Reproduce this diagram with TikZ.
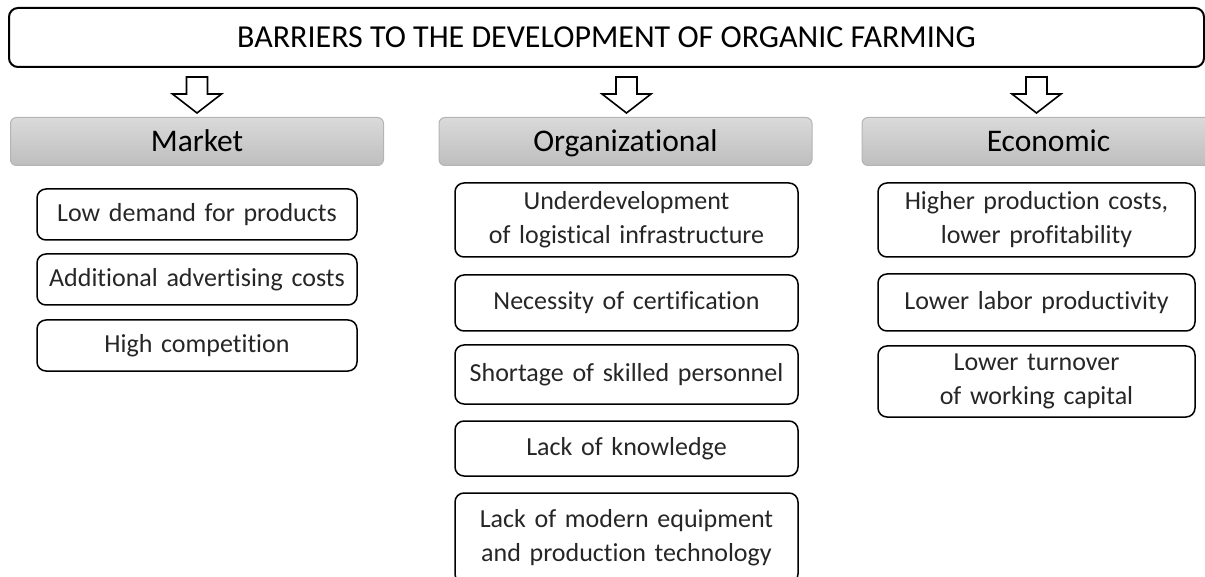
\documentclass[tikz,border=0pt]{standalone}
\usepackage{fontspec}
\setmainfont{Carlito}[Ligatures=NoCommon]
\usetikzlibrary{positioning,calc}
\definecolor{hdtop}{RGB}{218,218,218}
\definecolor{hdbot}{RGB}{190,190,190}
\definecolor{hdline}{RGB}{180,180,180}
\definecolor{itemtext}{RGB}{38,38,38}

\begin{document}
\begin{tikzpicture}[x=1pt,y=-1pt]
        \tikzstyle{heading}=[draw=hdline,line width=1pt,rounded corners=6pt,top color=hdtop,bottom color=hdbot,minimum width=373pt,minimum height=48pt,text height=25pt,text depth=4pt,font=\fontsize{31.5}{38}\selectfont]
        \tikzstyle{barrier}=[draw,line width=1.5pt,rounded corners=9pt,inner xsep=0pt,align=center,text=itemtext,font=\fontsize{26}{34}\selectfont]
        \tikzset{downarrow/.pic={\draw[line width=1.6pt,fill=white] (-10.5,-18) -- (10.5,-18) -- (10.5,-1) -- (24.5,-1) -- (0,18) -- (-24.5,-1) -- (-10.5,-1) -- cycle;}}
        \useasboundingbox (0,0) rectangle (1205,577);

        \node[draw,line width=2pt,rounded corners=9pt,minimum width=1195pt,minimum height=59pt,font=\fontsize{32}{38}\selectfont] (title) at (606.5,37.5) {BARRIERS TO THE DEVELOPMENT OF ORGANIC FARMING};

        \node[heading] (market) at (197,141.5) {Market};
        \node[heading] (organizational) at (625.5,141.5) {Organizational};
        \node[heading] (economic) at (1048.5,141.5) {Economic};

        % market
        \node[barrier,text width=320pt,minimum height=51pt] (demand) at (197,214.5) {Low demand for products};
        \node[barrier,text width=320pt,minimum height=51pt] (advertising) [below=12.5pt of demand] {Additional advertising costs};
        \node[barrier,text width=320pt,minimum height=51pt] (competition) [below=13.5pt of advertising] {High competition};

        % organizational
        \node[barrier,text width=343pt,minimum height=74pt] (logistics) at (626.5,220) {Underdevelopment\\of logistical infrastructure};
        \node[barrier,text width=343pt,minimum height=56pt] (certification) [below=16.5pt of logistics] {Necessity of certification};
        \node[barrier,text width=343pt,minimum height=59pt] (personnel) [below=12.5pt of certification] {Shortage of skilled personnel};
        \node[barrier,text width=343pt,minimum height=55pt] (knowledge) [below=15.5pt of personnel] {Lack of knowledge};
        \node[barrier,text width=343pt,minimum height=90pt] (equipment) [below=15.5pt of knowledge] {Lack of modern equipment\\and production technology};

        % economic
        \node[barrier,text width=317pt,minimum height=74pt] (costs) at (1036.5,220) {Higher production costs,\\lower profitability};
        \node[barrier,text width=317pt,minimum height=57pt] (productivity) [below=15.5pt of costs] {Lower labor productivity};
        \node[barrier,text width=317pt,minimum height=71pt] (turnover) [below=13.5pt of productivity] {Lower turnover\\of working capital};

        \pic at ($(title.south -| demand.north)+(0,27)$) {downarrow};
        \pic at ($(title.south -| logistics.north)+(0,27)$) {downarrow};
        \pic at ($(title.south -| costs.north)+(0,27)$) {downarrow};
    \end{tikzpicture}
\end{document}
